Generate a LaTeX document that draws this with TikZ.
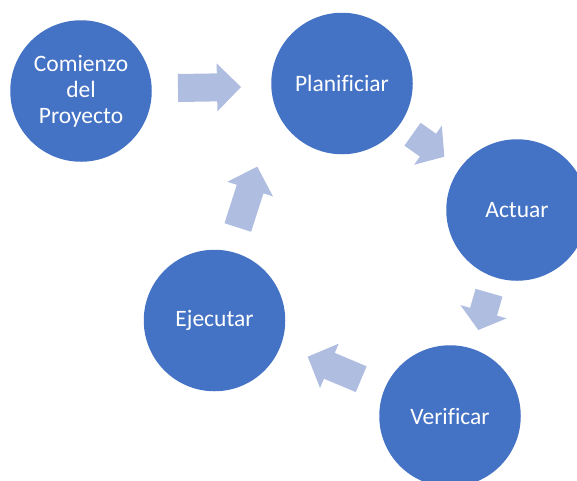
\documentclass[tikz,border=0pt]{standalone}
\usepackage{fontspec}
\setmainfont{Carlito}[Ligatures=NoCommon]
\usetikzlibrary{calc}
\definecolor{circblue}{HTML}{4472C4}
\definecolor{arrblue}{HTML}{AFBDE0}
\newcommand\blockarr[3]{%
  \fill[arrowfill]
    ($(#1)!14pt!90:(#2)$) --
    ($($(#2)!#3!(#1)$)!14pt!90:(#2)$) --
    ($($(#2)!#3!(#1)$)!24pt!90:(#2)$) --
    (#2) --
    ($($(#2)!#3!(#1)$)!24pt!-90:(#2)$) --
    ($($(#2)!#3!(#1)$)!14pt!-90:(#2)$) --
    ($(#1)!14pt!-90:(#2)$) -- cycle;}
\begin{document}
\begin{tikzpicture}[x=1pt,y=-1pt,
  stage/.style={circle, fill=circblue, minimum size=141.5pt, inner sep=0pt,
    text=white, align=center, font=\fontsize{23.5}{26}\selectfont},
  arrowfill/.style={fill=arrblue}]
\useasboundingbox (0,0) rectangle (577,480);
\clip (0,0) rectangle (577,480);
\node[stage] (comienzo) at (81,91) {Comienzo\\del\\Proyecto};
\node[stage] (plan) at (342,83.5) {Planificiar};
\node[stage] (actuar) at (517,210) {Actuar};
\node[stage] (verif) at (450,416) {Verificar};
\node[stage] (ejec) at (214.5,320.5) {Ejecutar};
% arrow 1
\coordinate (t1) at (178,88);
\coordinate (h1) at (241,87);
\blockarr{t1}{h1}{24pt}
% arrow 2
\coordinate (t2) at (412.5,134.2);
\coordinate (h2) at (444.3,156.7);
\blockarr{t2}{h2}{20pt}
% arrow 3
\coordinate (t3) at (489,292.7);
\coordinate (h3) at (478.3,330);
\blockarr{t3}{h3}{19pt}
% arrow 4
\coordinate (t4) at (361.2,379.2);
\coordinate (h4) at (307.7,356.7);
\blockarr{t4}{h4}{23.5pt}
% arrow 5
\coordinate (t5) at (237.8,227.5);
\coordinate (h5) at (257.3,166.7);
\blockarr{t5}{h5}{23.5pt}
\end{tikzpicture}
\end{document}
